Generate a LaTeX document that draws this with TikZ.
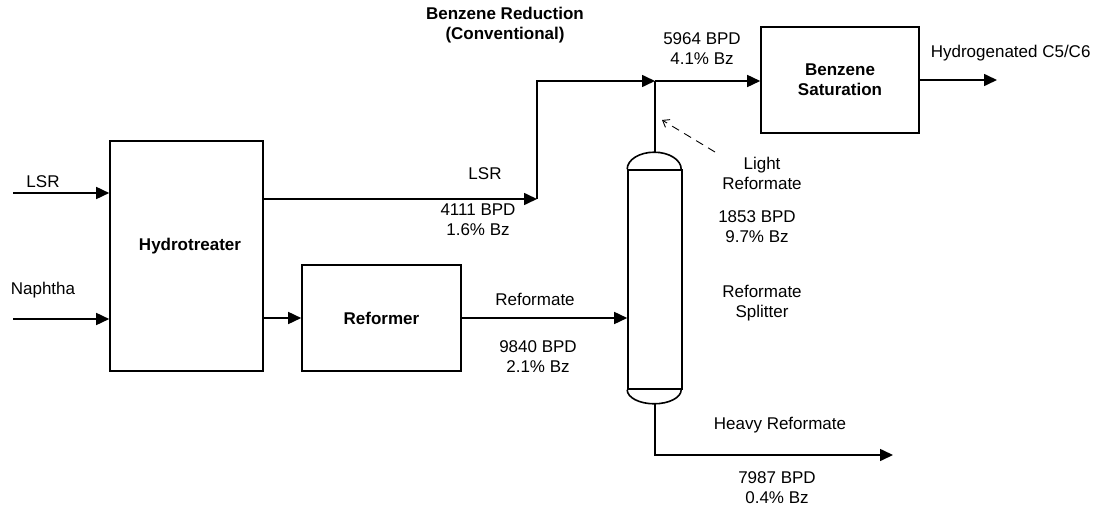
\documentclass[tikz,border=0pt]{standalone}
\usepackage{fontspec}
\setmainfont{Liberation Sans}
\usetikzlibrary{arrows.meta}
\begin{document}
\begin{tikzpicture}[x=1pt,y=-1pt,
  line width=1.6pt,
  every node/.style={font=\fontsize{17}{20}\selectfont, inner sep=0pt, align=center},
  unit/.style={draw, line width=1.6pt, font=\fontsize{17}{20}\selectfont\bfseries},
  flow/.style={-{Triangle[length=13pt,width=12pt]}, line width=1.6pt},
  hint/.style={dashed, dash pattern=on 8pt off 6pt, line width=0.9pt, -{Straight Barb[length=6pt,width=9pt]}}
]
\useasboundingbox (0,0) rectangle (1098,508);

% units
\node[unit, minimum width=153pt, minimum height=230pt] (hydro) at (186.5,256) {};
\node[font=\fontsize{17}{20}\selectfont\bfseries] (hydrotxt) at (190,246) {Hydrotreater};
\node[unit, minimum width=159pt, minimum height=106pt] (reformer) at (381.5,318) {Reformer};
\node[unit, minimum width=158pt, minimum height=106pt] (bsat) at (840,80) {Benzene\\Saturation};
\node[draw, line width=1.6pt, minimum width=54pt, minimum height=219pt] (column) at (655,279.5) {};
% column heads
\draw (column.north west) arc[start angle=180, end angle=0, x radius=27pt, y radius=17pt];
\draw (column.south west) arc[start angle=180, end angle=360, x radius=27pt, y radius=14pt];
\coordinate (coltop) at (655,153);
\coordinate (colbot) at (655,403);

% free ends
\coordinate (lsrin) at (13,193);
\coordinate (naphin) at (13,319);
\coordinate (lsrout) at (263,199);
\coordinate (c1) at (537,199);
\coordinate (c2) at (537,81);
\coordinate (j) at (655,81);
\coordinate (hvy1) at (655,455);
\coordinate (hvyend) at (893,455);
\coordinate (hydend) at (997,80);
\coordinate (hintA) at (715,152);
\coordinate (hintB) at (662,120);

% connectors
\draw[flow] (lsrin) -- (lsrin -| hydro.west);
\draw[flow] (naphin) -- (naphin -| hydro.west);
\draw[flow] (lsrout) -- (c1);
\draw[flow] (c1) -- (c2) -- (j);
\draw (coltop) -- (j);
\draw[flow] (j) -- (j -| bsat.west);
\draw[flow] (bsat.east) -- (hydend);
\draw[flow] (hydro.east |- reformer.west) -- (reformer.west);
\draw[flow] (reformer.east) -- (reformer.east -| column.west);
\draw[flow] (colbot) -- (hvy1) -- (hvyend);
\draw[hint] (hintA) -- (hintB);

% labels
\node[font=\fontsize{17}{20}\selectfont\bfseries] (title) at (505,25) {Benzene Reduction\\(Conventional)};
\node (l5964) at (702,48.5) {5964 BPD\\4.1\% Bz};
\node[anchor=west] (lhyd) at (930,53) {Hydrogenated C5/C6};
\node (llsrin) at (43,182) {LSR};
\node (lnaph) at (43,290) {Naphtha};
\node (llsr) at (485,174) {LSR};
\node (l4111) at (478,220) {4111 BPD\\1.6\% Bz};
\node (lref) at (535,299) {Reformate};
\node (l9840) at (538,357) {9840 BPD\\2.1\% Bz};
\node (llight) at (762,173) {Light\\Reformate};
\node (l1853) at (757,227) {1853 BPD\\9.7\% Bz};
\node (lsplit) at (762,303) {Reformate\\Splitter};
\node (lheavy) at (780,425) {Heavy Reformate};
\node (l7987) at (777,488) {7987 BPD\\0.4\% Bz};
\end{tikzpicture}
\end{document}
